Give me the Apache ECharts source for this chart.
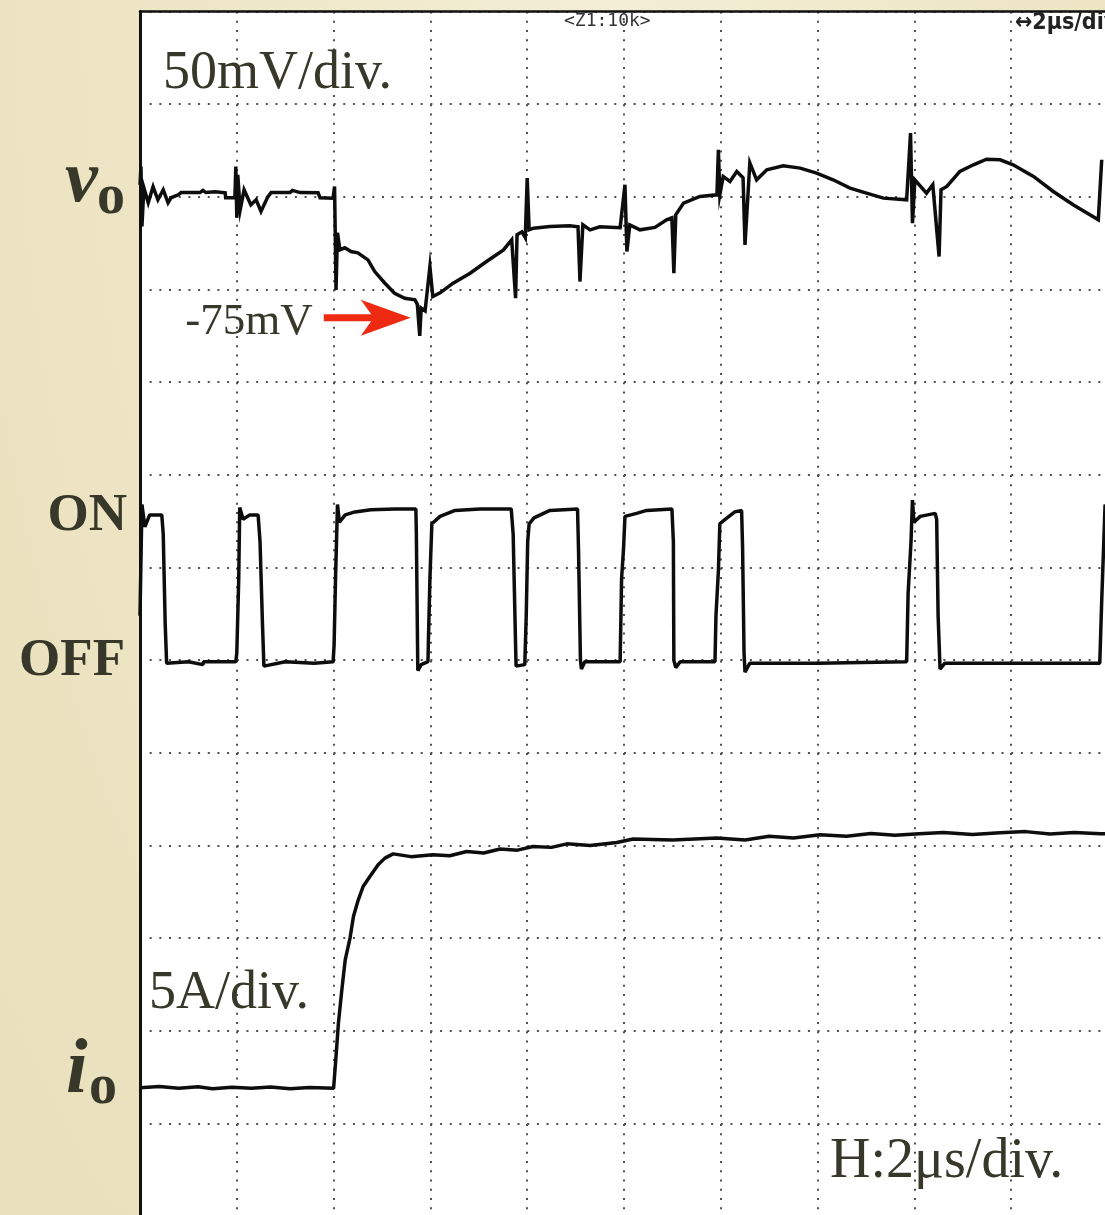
<!DOCTYPE html>
<html><head><meta charset="utf-8">
<script src="https://cdn.jsdelivr.net/npm/echarts@6/dist/echarts.min.js"></script>
<style>
html,body{margin:0;padding:0;}
body{background:radial-gradient(ellipse at 55% 0%, #f4eed6 0%, #ede5c4 55%, #e9e0bc 100%);}
#c{width:1105px;height:1215px;}
</style></head><body><div id="c"></div>
<script>
// ---- data (time in µs, 2 µs/div) ----
const voTime = [0.00,0.02,0.04,0.08,0.17,0.27,0.37,0.48,0.58,0.64,0.79,0.85,1.24,1.30,1.36,1.55,1.76,1.77,1.96,1.98,2.00,2.02,2.07,2.15,2.29,2.40,2.50,2.64,2.71,3.10,3.15,3.31,3.68,3.72,3.99,4.02,4.05,4.08,4.13,4.23,4.36,4.50,4.71,4.85,5.06,5.26,5.47,5.68,5.73,5.78,5.81,5.89,5.99,6.05,6.20,6.47,6.82,7.16,7.51,7.68,7.76,7.79,7.89,7.96,8.00,8.04,8.13,8.47,8.88,9.05,9.09,9.15,9.30,9.50,9.92,10.02,10.06,10.12,10.33,10.64,10.88,10.99,11.03,11.07,11.23,11.57,11.92,11.95,11.98,12.05,12.19,12.33,12.46,12.50,12.60,12.74,12.95,13.29,13.64,13.98,14.32,14.67,15.01,15.36,15.84,15.92,15.96,16.01,16.25,16.38,16.51,16.55,16.67,16.94,17.22,17.49,17.77,18.04,18.46,18.87,19.28,19.80,19.87];
const voMillivolts = [6.5,16.3,-16.0,4.9,-3.2,5.4,-1.6,3.8,-3.2,-0.5,1.1,2.3,2.3,3.5,2.3,2.7,2.2,-0.5,-0.5,16.3,-11.3,11.9,-7.0,3.8,-4.3,-1.6,-7.9,0.0,2.3,2.3,3.5,2.3,2.2,-0.5,-0.7,5.6,-50.2,-19.4,-28.6,-27.5,-29.5,-30.2,-34.0,-40.3,-46.6,-52.0,-54.7,-55.6,-58.0,-75.0,-60.0,-61.5,-37.6,-53.8,-51.8,-46.6,-41.2,-34.9,-28.6,-23.2,-54.7,-20.5,-18.9,-22.0,10.1,-17.8,-16.9,-16.0,-15.6,-16.2,-45.7,-15.1,-17.8,-16.2,-16.7,6.5,-29.5,-15.1,-17.8,-16.5,-12.4,-11.3,-41.2,-9.7,-3.4,0.2,1.1,25.4,1.1,11.0,8.3,13.7,10.3,-25.9,18.3,9.2,14.6,16.7,15.5,12.8,9.2,4.7,2.0,-0.7,-1.6,34.4,-14.2,9.2,2.0,6.5,-32.2,3.8,5.6,13.7,17.3,20.3,20.0,17.3,11.0,2.9,-4.3,-12.4,20.0];

const gateTime = [0.00,0.04,0.10,0.20,0.45,0.48,0.52,0.55,1.00,1.30,1.31,1.98,2.00,2.04,2.06,2.13,2.27,2.44,2.48,2.53,2.56,3.00,3.60,3.99,4.01,4.04,4.08,4.12,4.24,4.44,4.77,5.27,5.70,5.71,5.74,5.81,5.95,5.96,5.99,6.03,6.20,6.51,7.02,7.67,7.71,7.76,7.77,7.95,7.98,8.01,8.04,8.14,8.47,9.04,9.06,9.10,9.12,9.19,9.92,9.95,9.99,10.02,10.26,10.47,10.99,11.02,11.03,11.07,11.16,11.88,11.90,11.95,11.98,12.09,12.29,12.43,12.45,12.48,12.50,12.60,14.00,15.84,15.87,15.93,15.96,15.99,16.12,16.43,16.46,16.49,16.53,16.63,18.00,19.83,19.87,19.94,20.00];
const gateLevel = [0.30,1.05,0.90,0.98,0.98,0.85,0.25,-0.02,-0.01,-0.03,-0.01,-0.01,0.05,0.55,1.03,0.95,0.98,0.98,0.80,0.25,-0.04,-0.01,-0.02,-0.01,0.10,0.55,1.05,0.93,0.98,1.00,1.015,1.02,1.02,0.85,-0.07,-0.03,-0.01,0.15,0.55,0.92,0.97,1.01,1.02,1.02,0.85,0.10,-0.04,-0.03,0.30,0.80,0.92,0.96,1.01,1.02,0.75,0.00,-0.06,-0.01,-0.01,0.55,0.75,0.97,0.99,1.01,1.02,0.80,0.00,-0.05,-0.01,-0.01,0.30,0.60,0.92,0.95,1.00,1.01,0.76,0.05,-0.08,-0.02,-0.02,-0.01,0.45,0.80,1.08,0.93,0.97,0.99,0.95,0.30,-0.06,-0.02,-0.02,-0.02,0.40,1.05,1.00];

const ioTime = [0.0,0.4,0.8,1.2,1.5,1.9,2.3,2.7,3.1,3.5,4.0,4.06,4.10,4.17,4.24,4.34,4.41,4.51,4.61,4.75,4.92,5.06,5.23,5.6,6.05,6.4,6.75,7.1,7.44,7.8,8.12,8.5,8.82,9.3,9.85,10.19,11.0,11.92,12.5,13.0,13.5,14.05,14.6,15.1,15.6,16.1,16.6,17.2,17.77,18.3,18.8,19.3,19.85,20.0];
const ioAmps = [1.93,2.0,1.9,1.98,1.88,1.96,1.9,1.97,1.88,1.95,1.9,3.98,5.43,7.21,8.83,10.02,11.17,12.07,12.79,13.33,13.96,14.32,14.55,14.4,14.5,14.45,14.68,14.6,14.81,14.75,14.95,14.9,15.09,15.0,15.16,15.35,15.3,15.4,15.3,15.5,15.4,15.58,15.5,15.65,15.55,15.63,15.7,15.6,15.69,15.75,15.62,15.7,15.63,15.65];

const timeTicks = {min:0, max:20, step:2};       // H: 2 µs/div
const voScale = {perDiv:50, min:-550, max:100};  // 50 mV/div
const ioScale = {perDiv:5, min:-5, max:60};      // 5 A/div

// ---- chart ----
const chart = echarts.init(document.getElementById('c'), null, {renderer:'canvas'});
const zip = (a, b) => a.map((v, i) => [v, b[i]]);
const ink = '#0d0d0d';
const txt = '#37372a';
const serif = '"Liberation Serif","Times New Roman",serif';

function label(text, x, y, size, opts) {
  opts = opts || {};
  return {type:'text', x:x, y:y, z:100, silent:true,
    style:{text:text, font:(opts.style||'normal')+' '+(opts.weight||'normal')+' '+size+'px '+(opts.family||serif),
      fill:opts.fill||txt, textAlign:opts.align||'left', textVerticalAlign:'middle'}};
}

const baseGraphics = [
  label('50mV/div.', 163, 74, 54),
  label('5A/div.', 149, 994, 54),
  label('H:2\u03bcs/div.', 830, 1162, 56),
  label('ON', 127, 516, 53, {weight:'bold', align:'right'}),
  label('OFF', 125, 661, 53, {weight:'bold', align:'right'}),
  label('v', 65, 182, 74, {weight:'bold', style:'italic'}),
  label('o', 97, 199, 56, {weight:'bold'}),
  label('i', 66, 1072, 78, {weight:'bold', style:'italic'}),
  label('o', 89, 1089, 56, {weight:'bold'}),
  label('<Z1:10k>', 564, 21, 18, {family:'"DejaVu Sans Mono",monospace', fill:'#333'}),
  label('\u21942\u03bcs/div', 1015, 23, 23, {family:'"DejaVu Sans Condensed","Liberation Sans Narrow","DejaVu Sans",sans-serif', weight:'bold', fill:'#222'})
];

const option = {
  animation:false,
  backgroundColor:'transparent',
  grid:{left:140, top:11.5, width:968, height:1204.7, show:true, backgroundColor:'#ffffff', borderWidth:0, outerBoundsMode:'none', containLabel:false},
  xAxis:{type:'value', min:timeTicks.min, max:timeTicks.max, interval:timeTicks.step, position:'top',
    axisLine:{show:true, onZero:false, lineStyle:{color:'#111', width:2.5}},
    axisTick:{show:false}, axisLabel:{show:false},
    splitLine:{show:true, lineStyle:{color:'#505050', width:2, type:[2, 7.27]}}},
  yAxis:[
    {type:'value', min:0, max:13, interval:1, position:'left',
      axisLine:{show:true, onZero:false, lineStyle:{color:'#111', width:3}},
      axisTick:{show:false}, axisLabel:{show:false},
      splitLine:{show:true, lineStyle:{color:'#505050', width:2, type:[2, 7.68]}}},
    {type:'value', min:voScale.min, max:voScale.max, interval:voScale.perDiv, show:false, splitLine:{show:false}},
    {type:'value', min:-3.75, max:4.375, show:false, splitLine:{show:false}},
    {type:'value', min:ioScale.min, max:ioScale.max, interval:ioScale.perDiv, show:false, splitLine:{show:false}}
  ],
  series:[
    {type:'line', name:'vo', yAxisIndex:1, data:zip(voTime, voMillivolts), symbol:'none', showSymbol:false, silent:true, clip:true, lineStyle:{color:ink, width:3.5, join:'miter'}},
    {type:'line', name:'gate', yAxisIndex:2, data:zip(gateTime, gateLevel), symbol:'none', showSymbol:false, silent:true, clip:true, lineStyle:{color:ink, width:3.5}},
    {type:'line', name:'io', yAxisIndex:3, data:zip(ioTime, ioAmps), symbol:'none', showSymbol:false, silent:true, clip:true, lineStyle:{color:ink, width:3.5}}
  ],
  graphic:baseGraphics
};
chart.setOption(option);

// arrow pointing to the vo minimum (-75 mV)
const minV = Math.min.apply(null, voMillivolts);
const minI = voMillivolts.indexOf(minV);
const p = chart.convertToPixel({seriesIndex:0}, [voTime[minI], minV]);
const tx = p[0] - 9, ty = p[1] - 18;
const red = '#ee2a12';
chart.setOption({graphic: baseGraphics.concat([
  {type:'rect', z:100, silent:true, shape:{x:tx-87, y:ty-3.5, width:52, height:7}, style:{fill:red}},
  {type:'polygon', z:100, silent:true, shape:{points:[[tx,ty],[tx-50,ty-18],[tx-37,ty],[tx-50,ty+18]]}, style:{fill:red}},
  label('-75mV', tx-98, ty+4, 45, {align:'right'})
])});
</script>
</body></html>
